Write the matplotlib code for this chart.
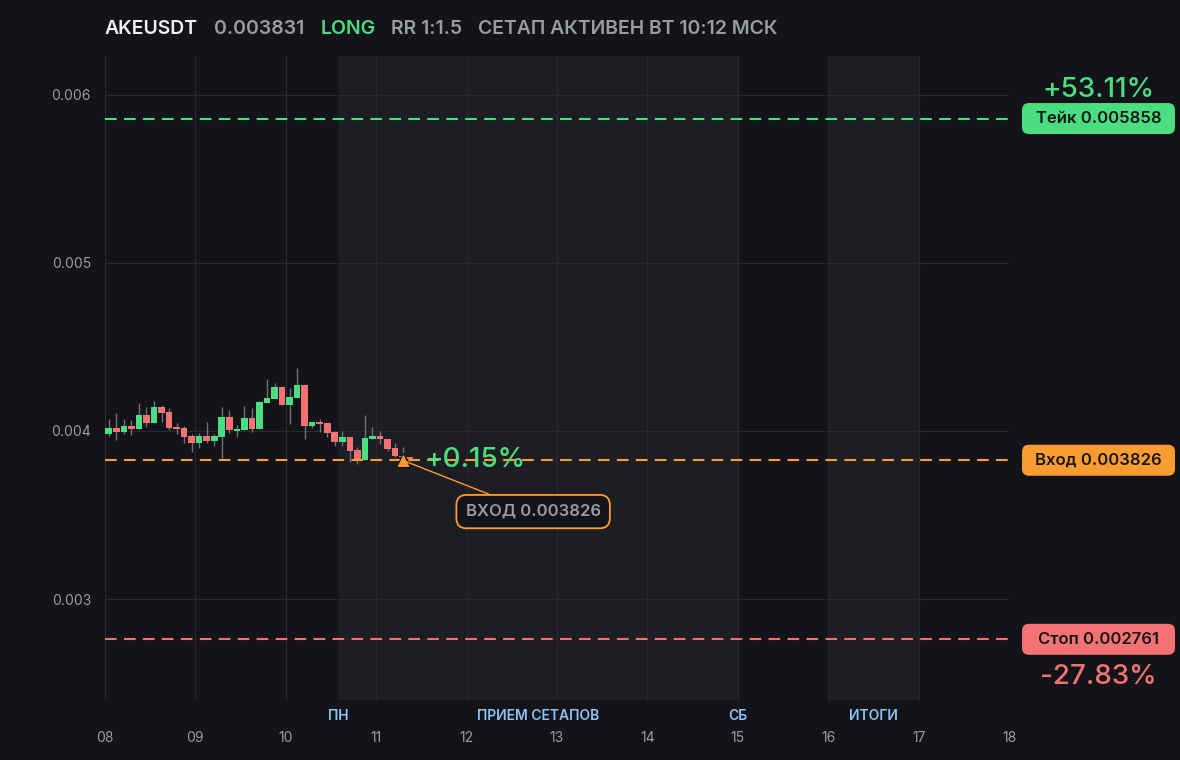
import matplotlib
matplotlib.use("Agg")
import matplotlib.pyplot as plt
from matplotlib.patches import FancyBboxPatch
from matplotlib.transforms import IdentityTransform, blended_transform_factory

plt.rcParams['font.family'] = ['Inter', 'DejaVu Sans']

# 2h candles, OHLC
opens = [0.003984, 0.004018, 0.003996, 0.004030, 0.004012, 0.004093, 0.004050, 0.004143,
         0.004113, 0.004024, 0.004018, 0.003970, 0.003931, 0.003970, 0.003942, 0.003966,
         0.004083, 0.004002, 0.004006, 0.004077, 0.004012, 0.004169, 0.004192, 0.004262,
         0.004157, 0.004198, 0.004274, 0.004032, 0.004054, 0.004048, 0.003994, 0.003937,
         0.003964, 0.003887, 0.003827, 0.003954, 0.003970, 0.003952, 0.003899, 0.003853,
         0.003843]
highs = [0.004069, 0.004109, 0.004069, 0.004065, 0.004169, 0.004145, 0.004179, 0.004155,
         0.004135, 0.004046, 0.004030, 0.003982, 0.003986, 0.004054, 0.003982, 0.004145,
         0.004125, 0.004036, 0.004149, 0.004137, 0.004176, 0.004310, 0.004284, 0.004265,
         0.004256, 0.004375, 0.004278, 0.004054, 0.004073, 0.004048, 0.004002, 0.004002,
         0.003964, 0.003903, 0.004095, 0.004024, 0.004002, 0.003952, 0.003927, 0.003907,
         0.003845]
lows = [0.003970, 0.003946, 0.003982, 0.003978, 0.004012, 0.004026, 0.004050, 0.004052,
        0.004006, 0.003982, 0.003931, 0.003877, 0.003901, 0.003927, 0.003911, 0.003827,
        0.003986, 0.003966, 0.004006, 0.003994, 0.004012, 0.004169, 0.004192, 0.004157,
        0.004042, 0.004198, 0.003950, 0.004018, 0.003996, 0.003962, 0.003913, 0.003911,
        0.003817, 0.003804, 0.003827, 0.003954, 0.003923, 0.003881, 0.003847, 0.003835,
        0.003823]
closes = [0.004018, 0.003996, 0.004030, 0.004012, 0.004093, 0.004050, 0.004143, 0.004109,
          0.004018, 0.004014, 0.003966, 0.003931, 0.003970, 0.003942, 0.003970, 0.004083,
          0.004006, 0.004012, 0.004077, 0.004012, 0.004173, 0.004196, 0.004262, 0.004157,
          0.004200, 0.004274, 0.004032, 0.004054, 0.004044, 0.003990, 0.003937, 0.003964,
          0.003883, 0.003827, 0.003958, 0.003970, 0.003950, 0.003895, 0.003853, 0.003843,
          0.003831]
start_day = 8.0
candle_days = 2 / 24

entry = 0.003826
take = 0.005858
stop = 0.002761
entry_idx = 39
take_pct = "+53.11%"
stop_pct = "-27.83%"
live_pct = "+0.15%"

span_starts = [10.58, 16.0]
span_ends = [15.0, 17.0]
phase_labels = ["ПН", "ПРИЕМ СЕТАПОВ", "СБ", "ИТОГИ"]
phase_pos = [10.58, 12.79, 15.0, 16.5]
day_ticks = [8, 9, 10, 11, 12, 13, 14, 15, 16, 17, 18]
day_labels = ["08", "09", "10", "11", "12", "13", "14", "15", "16", "17", "18"]
y_ticks = [0.003, 0.004, 0.005, 0.006]

BG = "#131419"
SHADE = "#1d1e23"
GRID = "#272930"
GREEN = "#4ade80"
RED = "#f47272"
ORANGE = "#fb9c30"
GRAY = "#9a9ca3"
WICK = "#6e7178"

W, H = 1180, 760
fig = plt.figure(figsize=(W / 100, H / 100), dpi=100, facecolor=BG)
ax = fig.add_axes([105 / W, 1 - 700 / H, 904 / W, 644 / H])
ax.set_facecolor(BG)
ax.set_xlim(8, 18)
ax.set_ylim(0.0024, 0.00623)

for s, e in zip(span_starts, span_ends):
    ax.axvspan(s, e, color=SHADE, zorder=0, lw=0)

ax.set_xticks(day_ticks)
ax.set_xticklabels(day_labels)
ax.set_yticks(y_ticks)
ax.set_yticklabels([f"{v:.3f}" for v in y_ticks])
ax.grid(True, color=GRID, lw=0.8, zorder=0.5)
ax.tick_params(axis='x', length=0, pad=22, labelsize=10, labelcolor=GRAY)
ax.tick_params(axis='y', length=0, pad=10, labelsize=10, labelcolor=GRAY)
for sp in ax.spines.values():
    sp.set_visible(False)

# candles
xs = [start_day + candle_days / 2 + i * candle_days for i in range(len(opens))]
for x, o, h, l, c in zip(xs, opens, highs, lows, closes):
    col = GREEN if c >= o else RED
    ax.vlines(x, l, h, color=WICK, lw=1, zorder=2)
    ax.bar(x, max(abs(c - o), 0.000004), bottom=min(o, c), width=candle_days * 0.88,
           color=col, lw=0, zorder=3)

# levels
dash = (0, (5.6, 3.5))
ax.axhline(take, color=GREEN, lw=1.5, ls=dash, zorder=4)
ax.axhline(entry, color=ORANGE, lw=1.5, ls=dash, zorder=4)
ax.axhline(stop, color=RED, lw=1.5, ls=dash, zorder=4)

ex = xs[entry_idx]
ax.plot(ex, entry, marker='^', ms=10, color=ORANGE, mec=BG, mew=0.8, zorder=6)
ax.annotate(f"ВХОД {entry:.6f}", xy=(ex, entry), xytext=(94, -37), textcoords='offset points',
            ha='center', va='center', fontsize=12, color=GRAY, fontweight='semibold',
            bbox=dict(boxstyle='round,pad=0.55,rounding_size=0.6', fc=BG, ec=ORANGE, lw=1.3),
            arrowprops=dict(arrowstyle='-', color=ORANGE, lw=1, shrinkA=0, shrinkB=0),
            zorder=7)
ax.annotate(live_pct, xy=(ex, entry), xytext=(16, 0), textcoords='offset points',
            ha='left', va='center', fontsize=20, color=GREEN, fontweight='medium', zorder=7)

# phase labels under axis
trans = blended_transform_factory(ax.transData, ax.transAxes)
for p, lab in zip(phase_pos, phase_labels):
    ax.text(p, -16 / 644, lab, transform=trans, ha='center', va='center', fontsize=10,
            color="#8fc3f2", fontweight='semibold')

# right side price pills
def pill(value, text, color):
    yc = ax.transData.transform((8, value))[1]
    box = FancyBboxPatch((1022, yc - 15.5), 153, 31, boxstyle='round,pad=0,rounding_size=7',
                         fc=color, ec='none', transform=IdentityTransform())
    fig.add_artist(box)
    fig.text(1098.5, yc, text, transform=IdentityTransform(), ha='center', va='center',
             fontsize=12, color="#15161a", fontweight='semibold')
    return yc

ty = pill(take, f"Тейк {take:.6f}", GREEN)
pill(entry, f"Вход {entry:.6f}", ORANGE)
sy = pill(stop, f"Стоп {stop:.6f}", RED)
fig.text(1098, ty + 29, take_pct, transform=IdentityTransform(), ha='center', va='center',
         fontsize=20, color=GREEN, fontweight='medium')
fig.text(1098, sy - 38, stop_pct, transform=IdentityTransform(), ha='center', va='center',
         fontsize=20, color=RED, fontweight='medium')

# header
parts = [("AKEUSDT", "#f1f2f4"), (f"{closes[-1]:.6f}", GRAY), ("LONG", GREEN),
         ("RR 1:1.5", GRAY), ("СЕТАП АКТИВЕН ВТ 10:12 МСК", GRAY)]
renderer = fig.canvas.get_renderer()
x = 105
for txt, col in parts:
    t = fig.text(x, H - 29, txt, transform=IdentityTransform(), ha='left', va='center',
                 fontsize=14, color=col, fontweight='semibold')
    x += t.get_window_extent(renderer).width + 16

fig.savefig("out.png", dpi=100, facecolor=BG)
